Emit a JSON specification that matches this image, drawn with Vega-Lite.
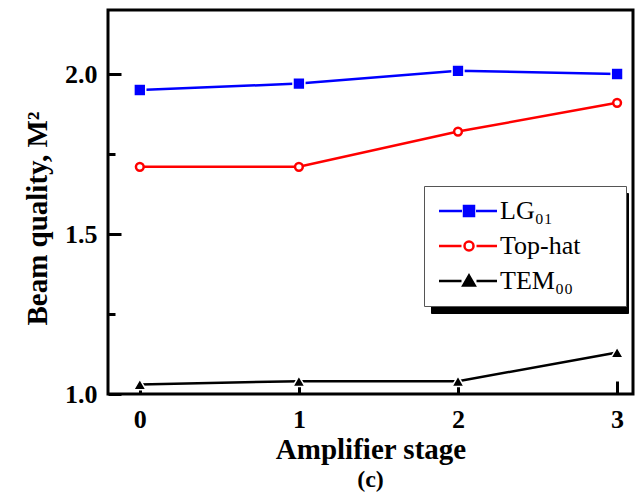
{
  "$schema": "https://vega.github.io/schema/vega-lite/v6.json",
  "width": 525,
  "height": 384,
  "autosize": {"type": "none"},
  "padding": {"left": 108, "top": 10, "right": 9, "bottom": 102},
  "background": "white",
  "config": {
    "view": {"stroke": "black", "strokeWidth": 3},
    "font": "Liberation Serif"
  },
  "title": {
    "text": "(c)",
    "orient": "bottom",
    "anchor": "middle",
    "font": "Liberation Serif",
    "fontSize": 24,
    "fontWeight": "bold",
    "color": "black",
    "offset": 4
  },
  "data": {
    "values": [
      {"stage": 0, "series": "LG₀₁", "m2": 1.95},
      {"stage": 1, "series": "LG₀₁", "m2": 1.97},
      {"stage": 2, "series": "LG₀₁", "m2": 2.01},
      {"stage": 3, "series": "LG₀₁", "m2": 2.0},
      {"stage": 0, "series": "Top-hat", "m2": 1.71},
      {"stage": 1, "series": "Top-hat", "m2": 1.71},
      {"stage": 2, "series": "Top-hat", "m2": 1.82},
      {"stage": 3, "series": "Top-hat", "m2": 1.91},
      {"stage": 0, "series": "TEM₀₀", "m2": 1.03},
      {"stage": 1, "series": "TEM₀₀", "m2": 1.04},
      {"stage": 2, "series": "TEM₀₀", "m2": 1.04},
      {"stage": 3, "series": "TEM₀₀", "m2": 1.13}
    ]
  },
  "encoding": {
    "x": {
      "field": "stage",
      "type": "quantitative",
      "scale": {"domain": [-0.2, 3.1], "nice": false, "zero": false},
      "axis": null
    },
    "y": {
      "field": "m2",
      "type": "quantitative",
      "scale": {"domain": [1.0, 2.2], "nice": false, "zero": false},
      "axis": null
    }
  },
  "layer": [
    {
      "mark": {"type": "line", "strokeWidth": 2.5},
      "encoding": {
        "x": {
          "field": "stage",
          "type": "quantitative",
          "scale": {"domain": [-0.2, 3.1], "nice": false, "zero": false},
          "axis": {
            "orient": "bottom",
            "values": [0, 1, 2, 3],
            "format": "d",
            "grid": false,
            "domain": false,
            "ticks": false,
            "labelFont": "Liberation Serif",
            "labelFontWeight": "bold",
            "labelFontSize": 26,
            "labelColor": "black",
            "labelPadding": 12,
            "title": "Amplifier stage",
            "titleFont": "Liberation Serif",
            "titleFontWeight": "bold",
            "titleFontSize": 29,
            "titleColor": "black",
            "titlePadding": 3
          }
        },
        "y": {
          "field": "m2",
          "type": "quantitative",
          "scale": {"domain": [1.0, 2.2], "nice": false, "zero": false},
          "axis": {
            "orient": "left",
            "values": [1.0, 1.5, 2.0],
            "format": ".1f",
            "grid": false,
            "domain": false,
            "ticks": false,
            "labelFont": "Liberation Serif",
            "labelFontWeight": "bold",
            "labelFontSize": 26,
            "labelColor": "black",
            "labelPadding": 11,
            "title": "Beam quality, M²",
            "titleFont": "Liberation Serif",
            "titleFontWeight": "bold",
            "titleFontSize": 29,
            "titleColor": "black",
            "titlePadding": 12,
            "titleY": 208
          }
        },
        "stroke": {
          "field": "series",
          "type": "nominal",
          "scale": {"domain": ["LG₀₁", "Top-hat", "TEM₀₀"], "range": ["#0000ff", "#ff0000", "#000000"]}
        }
      }
    },
    {
      "transform": [{"filter": "datum.series === 'LG₀₁'"}],
      "mark": {"type": "point", "shape": "square", "size": 140, "filled": true, "fill": "#0000ff", "stroke": "white", "strokeWidth": 1.5, "opacity": 1}
    },
    {
      "transform": [{"filter": "datum.series === 'Top-hat'"}],
      "mark": {"type": "point", "shape": "circle", "size": 60, "filled": false, "fill": "white", "fillOpacity": 1, "stroke": "#ff0000", "strokeWidth": 2.5, "opacity": 1}
    },
    {
      "transform": [{"filter": "datum.series === 'TEM₀₀'"}],
      "mark": {"type": "point", "shape": "triangle-up", "size": 150, "filled": true, "fill": "black", "stroke": "white", "strokeWidth": 1.5, "opacity": 1}
    },
    {
      "transform": [{"filter": "false"}],
      "mark": {"type": "point", "opacity": 1},
      "encoding": {
        "x": {
          "field": "stage",
          "type": "quantitative",
          "scale": {"domain": [-0.2, 3.1], "nice": false, "zero": false},
          "axis": {
            "orient": "bottom",
            "values": [0, 1, 2, 3],
            "grid": false,
            "domain": false,
            "labels": false,
            "offset": -13,
            "tickSize": 13,
            "tickWidth": 3,
            "tickColor": "black",
            "title": null
          }
        },
        "y": {
          "field": "m2",
          "type": "quantitative",
          "scale": {"domain": [1.0, 2.2], "nice": false, "zero": false},
          "axis": {
            "orient": "left",
            "values": [1.0, 1.5, 2.0],
            "grid": false,
            "domain": false,
            "labels": false,
            "offset": -13,
            "tickSize": 13,
            "tickWidth": 3,
            "tickColor": "black",
            "title": null
          }
        },
        "shape": {
          "field": "series",
          "type": "nominal",
          "scale": {
            "domain": ["LG₀₁", "Top-hat", "TEM₀₀"],
            "range": [
              "M-6,0H-1.4M1.4,0H5.6M-1,-1H1V1H-1ZM28,0H28",
              "M-6,0H-1.5M1.5,0H5.6M0.9,0A0.9,0.9,0,1,1,-0.9,0A0.9,0.9,0,1,1,0.9,0ZM28,0H28",
              "M-6,0H-1.5M1.5,0H5.6M0,-1.1L1.15,0.9H-1.15ZM28,0H28"
            ]
          },
          "legend": {
            "orient": "none",
            "legendX": 316,
            "legendY": 176,
            "zindex": 2,
            "title": null,
            "labelFont": "Liberation Serif",
            "labelFontSize": 26,
            "labelColor": "black",
            "symbolSize": 100,
            "symbolStrokeWidth": 2.5,
            "symbolStrokeCap": "butt",
            "symbolOffset": 20,
            "labelOffset": 18,
            "rowPadding": 9,
            "padding": 12,
            "strokeColor": "#555555",
            "fillColor": "white"
          }
        },
        "fill": {
          "field": "series",
          "type": "nominal",
          "scale": {"domain": ["LG₀₁", "Top-hat", "TEM₀₀"], "range": ["#0000ff", "#ffffff", "#000000"]}
        }
      }
    },
    {
      "transform": [{"filter": "false"}],
      "mark": {"type": "point", "opacity": 1},
      "encoding": {
        "y": {
          "field": "m2",
          "type": "quantitative",
          "scale": {"domain": [1.0, 2.2], "nice": false, "zero": false},
          "axis": {
            "orient": "left",
            "values": [1.25, 1.75],
            "grid": false,
            "domain": false,
            "labels": false,
            "offset": -7,
            "tickSize": 7,
            "tickWidth": 3,
            "tickColor": "black",
            "title": null
          }
        },
        "color": {
          "field": "series",
          "type": "nominal",
          "scale": {"domain": ["TEM₀₀", "Top-hat", "LG₀₁"], "range": ["#000000", "#000000", "#000000"]},
          "legend": {
            "orient": "none",
            "legendX": 323,
            "legendY": 183,
            "zindex": 1,
            "title": null,
            "labelFont": "Liberation Serif",
            "labelFontSize": 26,
            "labelColor": "black",
            "labelExpr": "''",
            "symbolType": "M-6,-2.6H-1.4M28,2.6H28",
            "symbolSize": 100,
            "symbolStrokeWidth": 2.5,
            "symbolOpacity": 0,
            "symbolOffset": 20,
            "labelOffset": 18,
            "rowPadding": 9,
            "padding": 12,
            "strokeColor": "black",
            "fillColor": "black"
          }
        }
      }
    }
  ],
  "resolve": {"axis": {"x": "independent", "y": "independent"}}
}
